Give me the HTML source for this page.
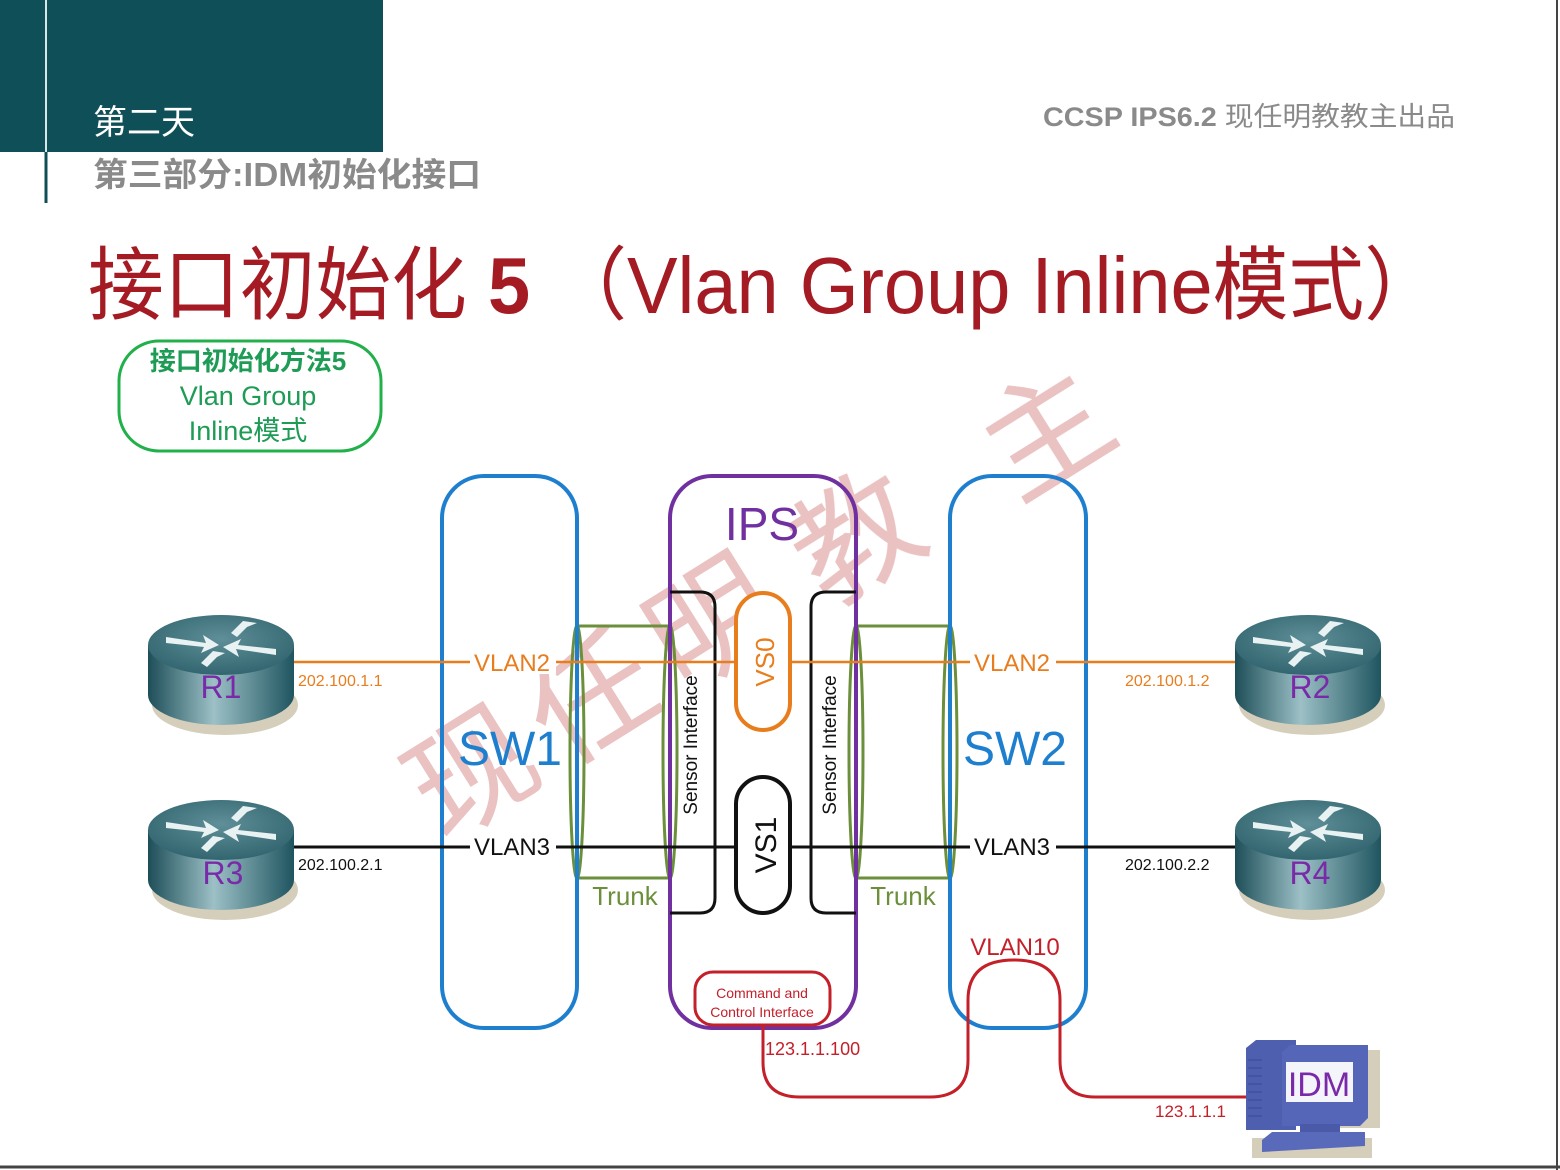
<!DOCTYPE html>
<html><head><meta charset="utf-8"><style>
html,body{margin:0;padding:0;background:#fff;}
svg{display:block;}
</style></head><body>
<svg width="1560" height="1170" viewBox="0 0 1560 1170" xmlns="http://www.w3.org/2000/svg" font-family="'Liberation Sans','Noto Sans CJK SC',sans-serif">
<defs>
<linearGradient id="rb" x1="0" x2="1" y1="0" y2="0">
<stop offset="0" stop-color="#1d4e58"/><stop offset="0.45" stop-color="#9cc0c6"/><stop offset="1" stop-color="#1f5560"/>
</linearGradient>
<radialGradient id="rt" cx="0.5" cy="0.4" r="0.7">
<stop offset="0" stop-color="#5f8f98"/><stop offset="1" stop-color="#2b5f69"/>
</radialGradient>
<g id="router">
<ellipse cx="4" cy="40" rx="73" ry="30" fill="#b9ae8e" opacity="0.6"/>
<path d="M-73,-20 L-73,30 A73,30 0 0 0 73,30 L73,-20 Z" fill="url(#rb)"/>
<ellipse cx="0" cy="-20" rx="73" ry="30" fill="url(#rt)"/>
<path d="M-55,-28 L-15,-22 L-18,-30 L-2,-20 L-20,-12 L-17,-18 L-55,-22Z" fill="#e8f2f2"/>
<path d="M10,-32 L22,-44 L36,-42 L26,-38 L16,-28Z" fill="#e8f2f2"/>
<path d="M55,-10 L15,-16 L18,-8 L2,-18 L20,-26 L17,-20 L55,-16Z" fill="#e8f2f2"/>
<path d="M-20,-2 L-8,-14 L4,-12 L-4,-8 L-14,2Z" fill="#e8f2f2"/>
</g>
</defs>

<!-- header -->
<rect x="0" y="0" width="383" height="152" fill="#0f4f57"/>
<line x1="46" y1="0" x2="46" y2="152" stroke="#d8e6e8" stroke-width="2"/>
<line x1="46" y1="152" x2="46" y2="203" stroke="#0f4f57" stroke-width="3"/>
<text x="93" y="134" font-size="34" fill="#fff">第二天</text>
<text x="93" y="186" font-size="33" fill="#8a8a8a" font-weight="bold" textLength="388" lengthAdjust="spacingAndGlyphs">第三部分:IDM初始化接口</text>
<text x="1043" y="126" font-size="27" fill="#8a8a8a" textLength="412" lengthAdjust="spacingAndGlyphs"><tspan font-weight="bold">CCSP IPS6.2</tspan>  现任明教教主出品</text>

<!-- title -->
<text x="88" y="313" font-size="80" fill="#a51b24" textLength="1352" lengthAdjust="spacingAndGlyphs">接口初始化 <tspan font-weight="bold">5</tspan> （Vlan Group Inline模式）</text>

<!-- green box -->
<rect x="119" y="341" width="262" height="110" rx="40" fill="none" stroke="#22b04a" stroke-width="3"/>
<text x="248" y="370" font-size="26" fill="#1e9c55" text-anchor="middle" font-weight="bold">接口初始化方法5</text>
<text x="248" y="405" font-size="27" fill="#1e9c55" text-anchor="middle">Vlan Group</text>
<text x="248" y="440" font-size="27" fill="#1e9c55" text-anchor="middle">Inline模式</text>

<!-- watermark -->
<g fill="#dc9a9a" opacity="0.6" font-size="125" text-anchor="middle">
<text transform="translate(495,810) rotate(-32)">现</text>
<text transform="translate(615,735) rotate(-32)">任</text>
<text transform="translate(735,660) rotate(-32)">明</text>
<text transform="translate(880,575) rotate(-32)">教</text>
<text transform="translate(1070,470) rotate(-32)">主</text>
</g>

<!-- trunk boxes -->
<g stroke="#6b8f3a" stroke-width="3" fill="none">
<rect x="577" y="626" width="93" height="252"/>
<ellipse cx="577" cy="752" rx="7" ry="126"/>
<ellipse cx="670" cy="752" rx="7" ry="126"/>
<rect x="856" y="626" width="94" height="252"/>
<ellipse cx="856" cy="752" rx="7" ry="126"/>
<ellipse cx="950" cy="752" rx="7" ry="126"/>
</g>

<!-- switches / IPS -->
<rect x="442" y="476" width="135" height="552" rx="42" fill="none" stroke="#1f7fcf" stroke-width="4"/>
<rect x="950" y="476" width="136" height="552" rx="42" fill="none" stroke="#1f7fcf" stroke-width="4"/>
<rect x="670" y="476" width="186" height="552" rx="42" fill="none" stroke="#7030a0" stroke-width="4"/>

<!-- sensor brackets -->
<path d="M670,592 L700,592 Q715,592 715,607 L715,898 Q715,913 700,913 L670,913" fill="none" stroke="#111" stroke-width="3"/>
<path d="M856,592 L826,592 Q811,592 811,607 L811,898 Q811,913 826,913 L856,913" fill="none" stroke="#111" stroke-width="3"/>
<text transform="translate(697,745) rotate(-90)" font-size="19" text-anchor="middle" fill="#111">Sensor Interface</text>
<text transform="translate(836,745) rotate(-90)" font-size="19" text-anchor="middle" fill="#111">Sensor Interface</text>

<!-- lines -->
<line x1="292" y1="662" x2="1236" y2="662" stroke="#e87d1e" stroke-width="2.5"/>
<line x1="292" y1="847" x2="1236" y2="847" stroke="#111" stroke-width="3"/>

<!-- VS pills -->
<rect x="736" y="593" width="54" height="137" rx="27" fill="#fff" stroke="#e87d1e" stroke-width="4"/>
<rect x="736" y="777" width="54" height="136" rx="27" fill="#fff" stroke="#111" stroke-width="4"/>
<text transform="translate(774,662) rotate(-90)" font-size="26" text-anchor="middle" fill="#e87d1e">VS0</text>
<text transform="translate(776,845) rotate(-90)" font-size="30" text-anchor="middle" fill="#111">VS1</text>

<!-- vlan labels -->
<g font-size="24">
<rect x="470" y="650" width="86" height="24" fill="#fff"/>
<text x="512" y="671" text-anchor="middle" fill="#e87d1e">VLAN2</text>
<rect x="970" y="650" width="86" height="24" fill="#fff"/>
<text x="1012" y="671" text-anchor="middle" fill="#e87d1e">VLAN2</text>
<rect x="470" y="835" width="86" height="24" fill="#fff"/>
<text x="512" y="855" text-anchor="middle" fill="#111">VLAN3</text>
<rect x="970" y="835" width="86" height="24" fill="#fff"/>
<text x="1012" y="855" text-anchor="middle" fill="#111">VLAN3</text>
</g>
<text x="510" y="765" font-size="48" text-anchor="middle" fill="#1f7fcf">SW1</text>
<text x="1015" y="765" font-size="48" text-anchor="middle" fill="#1f7fcf">SW2</text>
<text x="762" y="540" font-size="46" text-anchor="middle" fill="#7030a0">IPS</text>
<text x="625" y="905" font-size="26" text-anchor="middle" fill="#6b8f3a">Trunk</text>
<text x="903" y="905" font-size="26" text-anchor="middle" fill="#6b8f3a">Trunk</text>

<g font-size="16">
<text x="298" y="686" fill="#e87d1e">202.100.1.1</text>
<text x="1125" y="686" fill="#e87d1e">202.100.1.2</text>
<text x="298" y="870" fill="#111">202.100.2.1</text>
<text x="1125" y="870" fill="#111">202.100.2.2</text>
</g>

<!-- routers -->
<use href="#router" x="221" y="665"/>
<use href="#router" x="221" y="850"/>
<use href="#router" x="1308" y="665"/>
<use href="#router" x="1308" y="850"/>
<g font-size="32" fill="#7a2aa8" text-anchor="middle">
<text x="221" y="698">R1</text>
<text x="223" y="884">R3</text>
<text x="1310" y="698">R2</text>
<text x="1310" y="884">R4</text>
</g>

<!-- command and control -->
<rect x="695" y="972" width="135" height="53" rx="18" fill="#fff" stroke="#c3202a" stroke-width="3"/>
<text x="762" y="998" font-size="14" text-anchor="middle" fill="#c3202a">Command and</text>
<text x="762" y="1017" font-size="14" text-anchor="middle" fill="#c3202a">Control Interface</text>
<path d="M763,1025 L763,1062 Q763,1097 800,1097 L930,1097 Q968,1097 968,1060 L968,1000 Q968,960 1014,960 Q1060,960 1060,1000 L1060,1060 Q1060,1097 1095,1097 L1248,1097" fill="none" stroke="#c3202a" stroke-width="3"/>
<text x="1015" y="955" font-size="24" text-anchor="middle" fill="#c3202a">VLAN10</text>
<text x="765" y="1055" font-size="18" fill="#c3202a">123.1.1.100</text>
<text x="1155" y="1117" font-size="17" fill="#c3202a">123.1.1.1</text>

<!-- IDM computer -->
<rect x="1252" y="1138" width="120" height="20" fill="#b9ae8e" opacity="0.6"/>
<rect x="1300" y="1050" width="80" height="78" fill="#b9ae8e" opacity="0.6"/>
<path d="M1246,1048 L1256,1040 L1296,1040 L1296,1130 L1246,1130Z" fill="#4f5fb0"/>
<g stroke="#3a4890" stroke-width="1">
<line x1="1248" y1="1060" x2="1262" y2="1060"/><line x1="1248" y1="1068" x2="1262" y2="1068"/>
<line x1="1248" y1="1076" x2="1262" y2="1076"/><line x1="1248" y1="1084" x2="1262" y2="1084"/>
<line x1="1248" y1="1092" x2="1262" y2="1092"/><line x1="1248" y1="1100" x2="1262" y2="1100"/>
<line x1="1248" y1="1108" x2="1262" y2="1108"/><line x1="1248" y1="1116" x2="1262" y2="1116"/>
</g>
<path d="M1282,1052 L1290,1045 L1368,1045 L1368,1118 L1360,1126 L1282,1126Z" fill="#5565b8"/>
<rect x="1286" y="1062" width="67" height="40" fill="#f4f4fb"/>
<text x="1319" y="1096" font-size="34" text-anchor="middle" fill="#7a2aa8">IDM</text>
<rect x="1300" y="1124" width="40" height="10" fill="#4a5aa8"/>
<path d="M1262,1140 L1272,1132 L1365,1132 L1365,1146 L1262,1152Z" fill="#5a6abb"/>

<!-- border -->
<line x1="0" y1="1167" x2="1560" y2="1167" stroke="#444" stroke-width="3"/>
<line x1="1557" y1="0" x2="1557" y2="1170" stroke="#444" stroke-width="2"/>
</svg>
</body></html>
